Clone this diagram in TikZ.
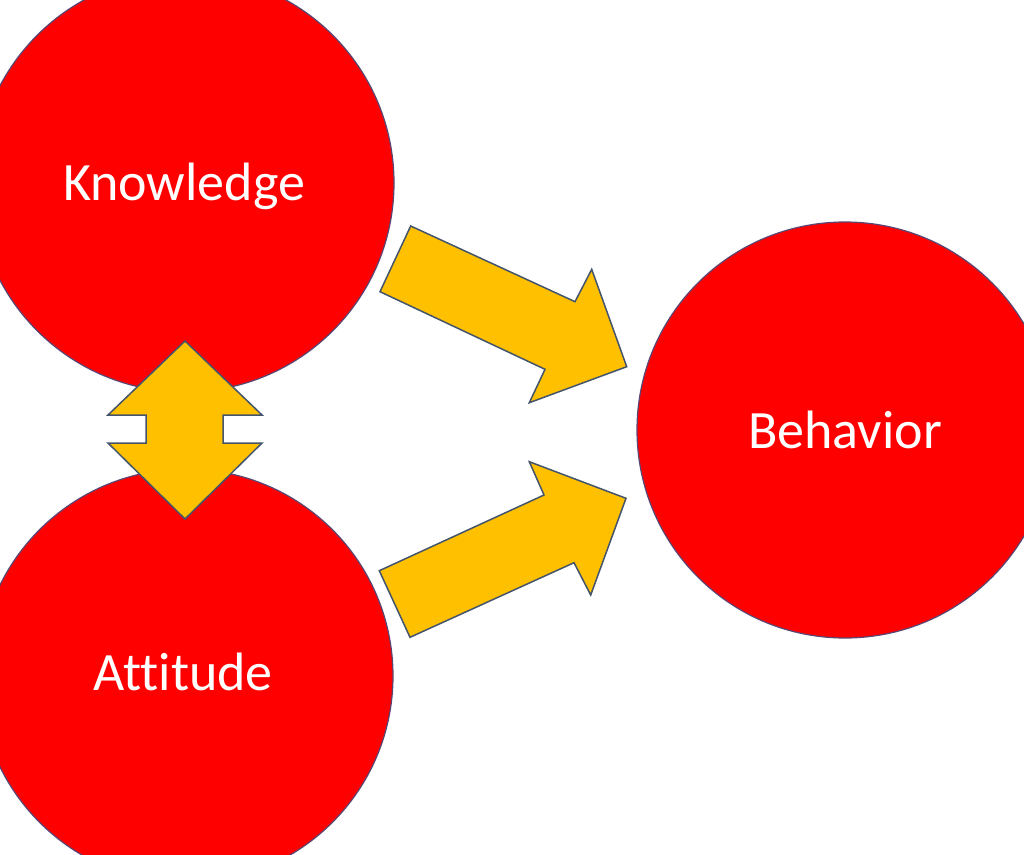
\documentclass[tikz,border=0pt]{standalone}
\usepackage{fontspec}
\setmainfont{Carlito}[Ligatures={NoCommon,NoRequired,NoContextual}]
\definecolor{cred}{RGB}{255,0,0}
\definecolor{cgold}{RGB}{255,192,0}
\definecolor{cedge}{RGB}{90,70,115}
\definecolor{aedge}{RGB}{68,84,106}
\begin{document}
\begin{tikzpicture}[x=1pt,y=-1pt,
  bubble/.style={circle, fill=cred, draw=cedge, line width=1.2pt, inner sep=0pt},
  bubbletext/.style={text=white, font=\fontsize{54}{60}\selectfont, anchor=base, inner sep=0pt},
  block/.style={fill=cgold, draw=aedge, line width=1.5pt, line join=miter}]
\useasboundingbox (0,0) rectangle (1024,854);
\clip (0,0) rectangle (1024,854);
\fill[white] (0,0) rectangle (1024,854);
% circles
\node[bubble, minimum size=418pt] (know) at (185,183) {};
\node[bubble, minimum size=414pt] (att) at (186,676) {};
\node[bubble, minimum size=416pt] (beh) at (845,430) {};
% labels
\node[bubbletext] (knowT) at (184,200) {Knowledge};
\node[bubbletext] (attT) at (183,690) {Attitude};
\node[bubbletext] (behT) at (845,448) {Behavior};
% upper block arrow: Knowledge -> Behavior
\draw[block] (410.7,226) -- (575,301.7) -- (591.7,269.3) -- (626.7,366.7)
  -- (529.3,402.7) -- (545,369.3) -- (380,291.7) -- cycle;
% lower block arrow: Attitude -> Behavior
\draw[block] (379.3,570.7) -- (544,495) -- (529.3,461.7) -- (626,498.3)
  -- (590.7,595) -- (574,562.7) -- (410,637.3) -- cycle;
% double block arrow: Knowledge <-> Attitude
\draw[block] (185,341) -- (262,415) -- (223,415) -- (223,443) -- (262,443)
  -- (185,519) -- (108,443) -- (146,443) -- (146,415) -- (108,415) -- cycle;
\end{tikzpicture}
\end{document}
